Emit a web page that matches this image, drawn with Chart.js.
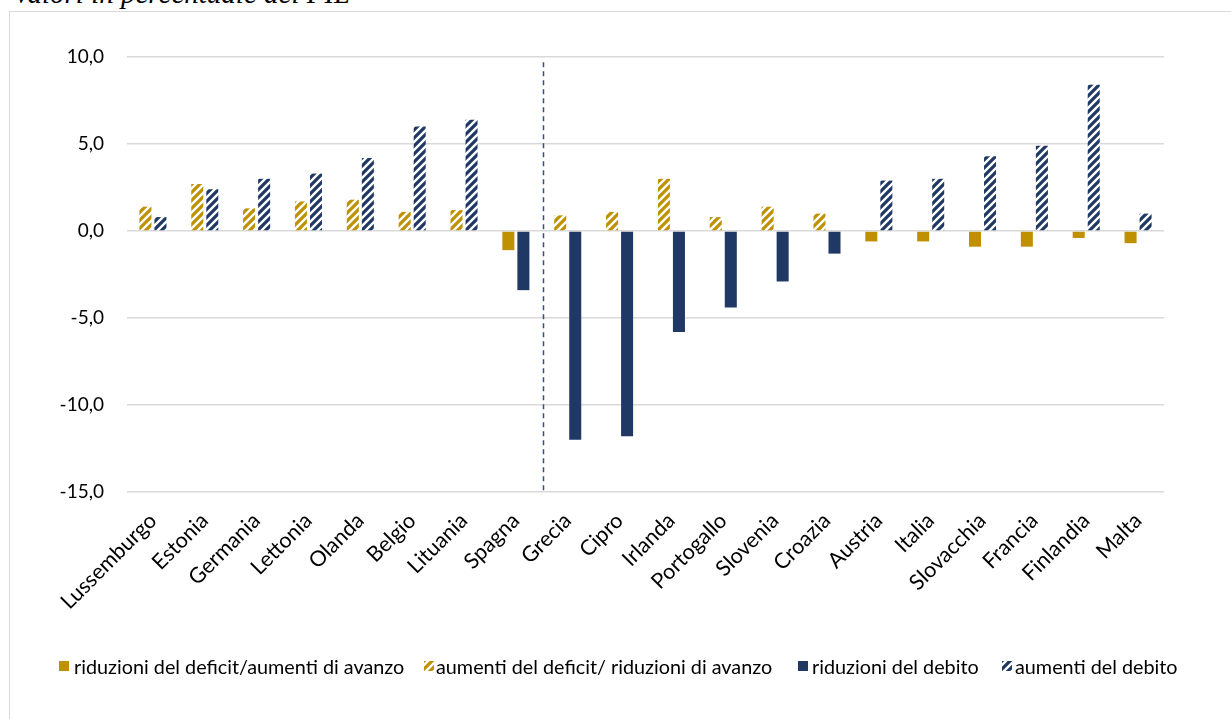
<!DOCTYPE html>
<html>
<head>
<meta charset="utf-8">
<script src="https://cdn.jsdelivr.net/npm/chart.js@4"></script>
<style>
  html, body { margin: 0; padding: 0; background: #fff; }
  body { width: 1231px; height: 719px; position: relative; overflow: hidden; }
  #frame { position: absolute; left: 9px; top: 11px; width: 1240px; height: 720px; border-left: 1.5px solid #D9D9D9; border-top: 1.5px solid #D9D9D9; box-sizing: border-box; }
  #title { position: absolute; left: 13px; top: -23px; font-family: "Liberation Serif", "DejaVu Serif", serif; font-style: italic; font-size: 29px; line-height: 32px; white-space: nowrap; color: #000; }
  #c { position: absolute; left: 0; top: 0; }
  .lg { position: absolute; top: 654px; height: 24px; font-family: Lato, "Open Sans", sans-serif; font-size: 19.8px; line-height: 24px; color: #000; white-space: nowrap; }
  .sw { position: absolute; top: 661px; width: 10px; height: 10px; }
</style>
</head>
<body>
<div id="frame"></div>
<div id="title">Valori in percentuale del PIL</div>
<canvas id="c" width="1231" height="719"></canvas>
<div id="legend"></div>
<script>
// ---- Data ----
const categories = ["Lussemburgo","Estonia","Germania","Lettonia","Olanda","Belgio","Lituania","Spagna","Grecia","Cipro","Irlanda","Portogallo","Slovenia","Croazia","Austria","Italia","Slovacchia","Francia","Finlandia","Malta"];
const seriesNames = ["riduzioni del deficit/aumenti di avanzo","aumenti del deficit/ riduzioni di avanzo","riduzioni del debito","aumenti del debito"];
const riduzioniDeficit = [null,null,null,null,null,null,null,-1.1,null,null,null,null,null,null,-0.6,-0.6,-0.9,-0.9,-0.4,-0.7];
const aumentiDeficit   = [1.4,2.7,1.3,1.7,1.8,1.1,1.2,null,0.9,1.1,3.0,0.8,1.4,1.0,null,null,null,null,null,null];
const riduzioniDebito  = [null,null,null,null,null,null,null,-3.4,-12.0,-11.8,-5.8,-4.4,-2.9,-1.3,null,null,null,null,null,null];
const aumentiDebito    = [0.8,2.4,3.0,3.3,4.2,6.0,6.4,null,null,null,null,null,null,null,2.9,3.0,4.3,4.9,8.4,1.0];
const yTicks = [10,5,0,-5,-10,-15];
const dividerAfterIndex = 7; // dashed line between Spagna and Grecia

// ---- Styles ----
const GOLD = "#BF9000";
const NAVY = "#1F3864";
function hatch(color) {
  const c = document.createElement("canvas");
  c.width = 8; c.height = 8;
  const g = c.getContext("2d");
  g.fillStyle = "#ffffff"; g.fillRect(0, 0, 8, 8);
  g.strokeStyle = color; g.lineWidth = 3.2; g.lineCap = "square";
  g.beginPath();
  for (const s of [0, 8, 16]) { g.moveTo(-2, s + 2); g.lineTo(s + 2, -2); }
  g.stroke();
  return c;
}
const ctx = document.getElementById("c").getContext("2d");
const goldHatch = ctx.createPattern(hatch(GOLD), "repeat");
const navyHatch = ctx.createPattern(hatch(NAVY), "repeat");
const fills = [GOLD, goldHatch, NAVY, navyHatch];

const dividerPlugin = {
  id: "divider",
  afterDatasetsDraw(chart) {
    const { ctx, scales } = chart;
    const x = Math.round(scales.x.getPixelForValue(dividerAfterIndex + 0.5)) + 1.5;
    ctx.save();
    ctx.strokeStyle = "#34507E";
    ctx.lineWidth = 1.5;
    ctx.setLineDash([5, 4]);
    ctx.beginPath();
    ctx.moveTo(x, scales.y.getPixelForValue(9.7));
    ctx.lineTo(x, scales.y.getPixelForValue(-15));
    ctx.stroke();
    ctx.restore();
  }
};

const Y_FONT = { family: "Lato, 'Open Sans', sans-serif", size: 19 };
const X_FONT = { family: "Lato, 'Open Sans', sans-serif", size: 21.5 };

new Chart(ctx, {
  type: "bar",
  data: {
    labels: categories,
    datasets: [
      { label: seriesNames[0], data: riduzioniDeficit, backgroundColor: fills[0], stack: "deficit" },
      { label: seriesNames[1], data: aumentiDeficit,   backgroundColor: fills[1], stack: "deficit" },
      { label: seriesNames[2], data: riduzioniDebito,  backgroundColor: fills[2], stack: "debito" },
      { label: seriesNames[3], data: aumentiDebito,    backgroundColor: fills[3], stack: "debito" }
    ]
  },
  options: {
    responsive: false,
    animation: false,
    devicePixelRatio: 1,
    layout: { padding: { top: 57, right: 67, bottom: 97, left: 0 } },
    datasets: { bar: { categoryPercentage: 0.58, barPercentage: 0.8, borderWidth: 0 } },
    plugins: { legend: { display: false }, tooltip: { enabled: false } },
    scales: {
      x: {
        stacked: true,
        grid: { display: false, drawTicks: false },
        border: { display: false },
        ticks: { color: "#000", font: X_FONT, minRotation: 45, maxRotation: 45, padding: 16, autoSkip: false },
        afterFit(s) { s.height = 130; }
      },
      y: {
        stacked: true,
        min: -15, max: 10,
        afterBuildTicks(s) { s.ticks = yTicks.map(v => ({ value: v })); },
        grid: { color: "#D9D9D9", lineWidth: 1.5, drawTicks: false },
        border: { display: false },
        ticks: { color: "#000", font: Y_FONT, padding: 23,
          callback: v => v.toFixed(1).replace(".", ",") },
        afterFit(s) { s.width = 127; }
      }
    }
  },
  plugins: [dividerPlugin]
});

// ---- HTML legend ----
const legendPos = [ { sw: 59, tx: 74 }, { sw: 424, tx: 436 }, { sw: 798, tx: 812 }, { sw: 1002, tx: 1015 } ];
const legend = document.getElementById("legend");
seriesNames.forEach((name, i) => {
  const sw = document.createElement("canvas");
  sw.className = "sw"; sw.width = 10; sw.height = 10;
  sw.style.left = legendPos[i].sw + "px";
  const g = sw.getContext("2d");
  g.fillStyle = fills[i]; g.fillRect(0, 0, 10, 10);
  legend.appendChild(sw);
  const t = document.createElement("div");
  t.className = "lg"; t.textContent = name;
  t.style.left = legendPos[i].tx + "px";
  legend.appendChild(t);
});
</script>
</body>
</html>
